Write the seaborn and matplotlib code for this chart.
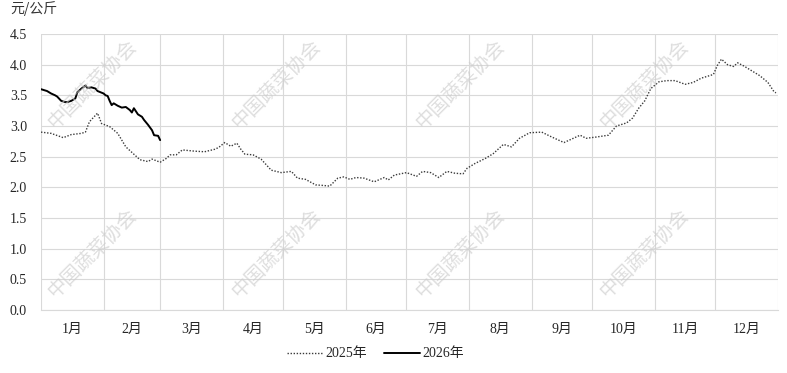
import numpy as np
import pandas as pd
import seaborn as sns
import matplotlib
matplotlib.use("Agg")
import matplotlib.pyplot as plt

# ---- data (day-of-year index, 0 = Jan 1) ----
day_2025 = [0, 5, 11, 15, 20, 22, 24, 28, 30, 34, 38, 42, 46, 49, 53, 55, 59, 62, 64, 67,
            70, 76, 81, 86, 88, 91, 94, 97, 99, 101, 105, 109, 114, 119, 124, 127, 131, 136,
            140, 143, 147, 150, 153, 156, 160, 165, 170, 172, 175, 181, 186, 189, 193, 197,
            201, 205, 209, 211, 215, 220, 224, 229, 233, 237, 242, 248, 253, 259, 263, 267,
            270, 275, 281, 285, 290, 293, 296, 299, 302, 306, 310, 314, 319, 323, 327, 333,
            335, 337, 340, 343, 345, 348, 351, 356, 360, 363, 364]
price_2025 = [2.90, 2.88, 2.81, 2.86, 2.88, 2.90, 3.07, 3.21, 3.04, 2.99, 2.88, 2.66, 2.54,
              2.45, 2.42, 2.46, 2.41, 2.47, 2.53, 2.53, 2.61, 2.59, 2.58, 2.62, 2.65, 2.73,
              2.67, 2.72, 2.62, 2.54, 2.53, 2.46, 2.28, 2.24, 2.26, 2.15, 2.13, 2.04, 2.03,
              2.02, 2.15, 2.17, 2.13, 2.16, 2.15, 2.09, 2.16, 2.12, 2.20, 2.24, 2.18, 2.26,
              2.24, 2.16, 2.26, 2.23, 2.22, 2.31, 2.39, 2.47, 2.55, 2.70, 2.66, 2.80, 2.89,
              2.90, 2.82, 2.73, 2.79, 2.85, 2.80, 2.82, 2.85, 3.00, 3.05, 3.13, 3.29, 3.41,
              3.61, 3.72, 3.74, 3.74, 3.68, 3.71, 3.78, 3.84, 3.99, 4.09, 4.00, 3.97, 4.03,
              3.98, 3.92, 3.82, 3.71, 3.56, 3.54]

day_2026 = [0, 3, 5, 7, 8, 10, 12, 13, 15, 17, 18, 20, 22, 23, 25, 27, 28, 31, 32, 33, 34,
            35, 36, 38, 40, 42, 44, 45, 46, 48, 50, 51, 53, 55, 56, 58, 59]
price_2026 = [3.60, 3.57, 3.53, 3.50, 3.48, 3.41, 3.39, 3.39, 3.41, 3.45, 3.55, 3.61, 3.66,
              3.62, 3.63, 3.61, 3.57, 3.53, 3.50, 3.49, 3.41, 3.34, 3.37, 3.33, 3.30, 3.31,
              3.26, 3.22, 3.29, 3.19, 3.15, 3.10, 3.02, 2.93, 2.85, 2.84, 2.77]

month_days = [31, 28, 31, 30, 31, 30, 31, 31, 30, 31, 30, 31]
month_labels = ["1月", "2月", "3月", "4月", "5月", "6月", "7月", "8月", "9月", "10月", "11月", "12月"]
series_names = ["2025年", "2026年"]
y_ticks = [0.0, 0.5, 1.0, 1.5, 2.0, 2.5, 3.0, 3.5, 4.0, 4.5]
unit_label = "元/公斤"
watermark = "中国蔬菜协会"

# ---- style ----
sns.set_style("white")
plt.rcParams['font.family'] = ['Liberation Serif', 'Noto Sans CJK SC', 'DejaVu Sans']

fig = plt.figure(figsize=(7.87, 3.73), dpi=100)
ax = fig.add_axes([41 / 787, 1 - 310 / 373, (778 - 41) / 787, (310 - 34) / 373])

df25 = pd.DataFrame({"day": day_2025, "price": price_2025})
df26 = pd.DataFrame({"day": day_2026, "price": price_2026})

sns.lineplot(data=df25, x="day", y="price", ax=ax, color="#3a3a3a", linewidth=1.0,
             linestyle=(0, (1, 1.2)), label=series_names[0], zorder=3)
sns.lineplot(data=df26, x="day", y="price", ax=ax, color="#000000", linewidth=1.4,
             label=series_names[1], zorder=4)

bounds = np.concatenate([[0], np.cumsum(month_days)])
centers = (bounds[:-1] + bounds[1:]) / 2

ax.set_xlim(0, bounds[-1])
ax.set_ylim(0, 4.5)
ax.set_xticks(centers)
ax.set_xticklabels(month_labels, fontsize=10)
ax.set_xticks(bounds, minor=True)
ax.set_yticks(y_ticks)
ax.set_yticklabels([f"{v:.1f}" for v in y_ticks], fontsize=10)
ax.tick_params(axis="both", which="both", length=0)
ax.tick_params(axis="x", pad=9)
ax.tick_params(axis="y", pad=10)
ax.set_xlabel("")
ax.set_ylabel("")

ax.grid(False)
ax.yaxis.grid(True, color="#d9d9d9", linewidth=0.8)
ax.xaxis.grid(True, which="minor", color="#d9d9d9", linewidth=0.8)
for s in ["top", "right", "left"]:
    ax.spines[s].set_visible(False)
ax.spines["bottom"].set_color("#d9d9d9")
ax.spines["bottom"].set_linewidth(0.8)

ax.get_legend().remove()
handles, labels = ax.get_legend_handles_labels()
fig.legend(handles, labels, loc="center", bbox_to_anchor=(0.477, 0.051), ncol=2,
           frameon=False, fontsize=10, handlelength=2.6, columnspacing=1.2,
           handletextpad=0.2)

fig.text(10 / 787, 1 - 9 / 373, unit_label, fontsize=10, color="#333333",
         family=["Noto Sans CJK SC"], ha="left", va="center")

for cx in [92, 276, 460, 644]:
    for cy in [84, 253]:
        fig.text(cx / 787, 1 - cy / 373, watermark, fontsize=14, color="#cccccc",
                 alpha=0.65, rotation=45, ha="center", va="center",
                 family=["Noto Sans CJK SC"], zorder=1)

fig.savefig("out.png", dpi=100)
